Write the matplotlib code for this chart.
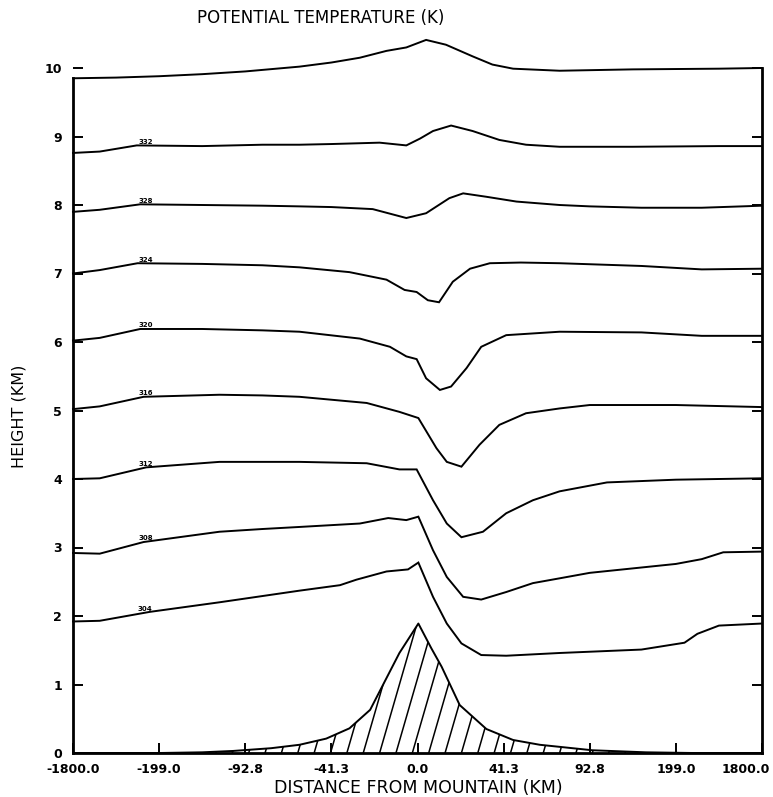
import numpy as np
import matplotlib
matplotlib.use("Agg")
import matplotlib.pyplot as plt
from matplotlib.patches import Polygon
from matplotlib import transforms

# ---------------- data (x in grid-index units 0..8, heights in km) ----------------
xtick_labels = ['-1800.0', '-199.0', '-92.8', '-41.3', '0.0', '41.3', '92.8', '199.0', '1800.0']
ytick_labels = ['0', '1', '2', '3', '4', '5', '6', '7', '8', '9', '10']

u_336 = [0, 0.5, 1.0, 1.5, 2.0, 2.63, 3.0, 3.33, 3.64, 3.87, 4.10, 4.33, 4.64, 4.87, 5.11, 5.65, 6.5, 7.5, 8]
z_336 = [9.85, 9.86, 9.88, 9.91, 9.95, 10.02, 10.08, 10.15, 10.25, 10.30, 10.41, 10.34, 10.17, 10.05, 9.99, 9.96, 9.98, 9.99, 10.0]

u_332 = [0, 0.31, 0.74, 1.5, 2.2, 2.63, 3.0, 3.56, 3.87, 4.03, 4.18, 4.39, 4.64, 4.95, 5.26, 5.65, 6.5, 7.5, 8]
z_332 = [8.76, 8.78, 8.87, 8.86, 8.88, 8.88, 8.89, 8.91, 8.87, 8.97, 9.08, 9.16, 9.08, 8.95, 8.88, 8.85, 8.85, 8.86, 8.86]

u_328 = [0, 0.31, 0.78, 1.5, 2.2, 2.63, 3.0, 3.48, 3.87, 4.10, 4.37, 4.53, 4.80, 5.15, 5.65, 6.0, 6.6, 7.3, 8]
z_328 = [7.90, 7.93, 8.01, 8.00, 7.99, 7.98, 7.97, 7.94, 7.81, 7.88, 8.10, 8.17, 8.12, 8.05, 8.00, 7.98, 7.96, 7.96, 7.99]

u_324 = [0, 0.31, 0.75, 1.5, 2.2, 2.63, 3.21, 3.64, 3.85, 3.99, 4.12, 4.25, 4.41, 4.61, 4.84, 5.2, 5.65, 6.6, 7.3, 8]
z_324 = [7.00, 7.05, 7.15, 7.14, 7.12, 7.09, 7.02, 6.91, 6.76, 6.73, 6.61, 6.58, 6.88, 7.07, 7.15, 7.16, 7.15, 7.11, 7.06, 7.07]

u_320 = [0, 0.31, 0.78, 1.5, 2.2, 2.63, 3.33, 3.68, 3.87, 3.99, 4.10, 4.26, 4.39, 4.57, 4.74, 5.03, 5.65, 6.6, 7.3, 8]
z_320 = [6.02, 6.06, 6.19, 6.19, 6.17, 6.15, 6.05, 5.93, 5.79, 5.75, 5.47, 5.30, 5.35, 5.62, 5.93, 6.10, 6.15, 6.14, 6.09, 6.09]

u_316 = [0, 0.31, 0.82, 1.7, 2.2, 2.63, 3.41, 3.79, 4.01, 4.22, 4.34, 4.51, 4.72, 4.95, 5.26, 5.65, 6.0, 7.0, 8]
z_316 = [5.02, 5.06, 5.20, 5.23, 5.22, 5.20, 5.11, 4.98, 4.89, 4.45, 4.25, 4.18, 4.50, 4.79, 4.96, 5.03, 5.08, 5.08, 5.05]

u_312 = [0, 0.31, 0.85, 1.7, 2.2, 2.63, 3.41, 3.79, 3.99, 4.18, 4.34, 4.51, 4.76, 5.03, 5.34, 5.65, 6.2, 7.0, 8]
z_312 = [4.00, 4.01, 4.17, 4.25, 4.25, 4.25, 4.23, 4.14, 4.14, 3.69, 3.35, 3.15, 3.23, 3.50, 3.69, 3.82, 3.95, 3.99, 4.01]

u_308 = [0, 0.31, 0.82, 1.7, 2.2, 2.63, 3.33, 3.66, 3.87, 4.01, 4.18, 4.34, 4.53, 4.74, 5.03, 5.34, 5.65, 6.0, 7.0, 7.3, 7.55, 8]
z_308 = [2.92, 2.91, 3.08, 3.23, 3.27, 3.30, 3.35, 3.43, 3.40, 3.45, 2.96, 2.57, 2.28, 2.24, 2.35, 2.48, 2.55, 2.63, 2.76, 2.83, 2.93, 2.94]

u_304 = [0, 0.31, 0.89, 1.7, 2.63, 3.1, 3.29, 3.64, 3.89, 4.01, 4.18, 4.34, 4.51, 4.74, 5.03, 5.65, 6.6, 7.1, 7.25, 7.5, 8]
z_304 = [1.92, 1.93, 2.06, 2.20, 2.37, 2.45, 2.53, 2.65, 2.68, 2.78, 2.28, 1.89, 1.60, 1.43, 1.42, 1.46, 1.51, 1.61, 1.74, 1.86, 1.89]

u_mtn = [0, 1.0, 1.5, 1.86, 2.3, 2.63, 2.94, 3.21, 3.45, 3.79, 4.01, 4.16, 4.28, 4.49, 4.80, 5.11, 5.42, 6.03, 6.65, 7.2, 8]
z_mtn = [0, 0.0, 0.01, 0.03, 0.07, 0.12, 0.21, 0.36, 0.63, 1.46, 1.89, 1.53, 1.26, 0.70, 0.35, 0.19, 0.12, 0.04, 0.01, 0.0, 0]

isentropes = [
    ('', u_336, z_336),
    ('332', u_332, z_332),
    ('328', u_328, z_328),
    ('324', u_324, z_324),
    ('320', u_320, z_320),
    ('316', u_316, z_316),
    ('312', u_312, z_312),
    ('308', u_308, z_308),
    ('304', u_304, z_304),
]

# ---------------- figure ----------------
W, H = 773, 797
fig = plt.figure(figsize=(W / 100, H / 100), dpi=100)
ax = fig.add_axes([73 / W, 44 / H, (762 - 73) / W, (753 - 68) / H])
ax.set_xlim(0, 8)
ax.set_ylim(0, 10)

lw = 1.4
for lab, uu, zz in isentropes:
    ax.plot(uu, zz, color='black', lw=lw, clip_on=False, solid_joinstyle='miter')
    if lab:
        yl = np.interp(0.84, uu, zz)
        ax.text(0.84, yl + 0.01, lab, fontsize=5, fontweight='bold',
                ha='center', va='bottom', color='black')

# mountain with steep hatching
ax.plot(u_mtn, z_mtn, color='black', lw=lw)
poly = Polygon(np.column_stack([u_mtn, z_mtn]), closed=True, facecolor='none',
               edgecolor='none')
ax.add_patch(poly)
slope = 0.23  # du per km of the hatch lines
for x0 in np.arange(-1.0, 9.0, 0.19):
    ln, = ax.plot([x0, x0 + slope * 2.5], [0, 2.5], color='black', lw=1.1)
    ln.set_clip_path(poly)

# domain boundaries (lateral walls end at the top isentrope)
ax.plot([0, 0], [0, z_336[0]], color='black', lw=2.0, clip_on=False)
ax.plot([8, 8], [0, z_336[-1]], color='black', lw=2.0, clip_on=False)

for s in ['left', 'right', 'top']:
    ax.spines[s].set_visible(False)
ax.spines['bottom'].set_linewidth(2.0)

ax.set_xticks(range(len(xtick_labels)))
ax.set_xticklabels(xtick_labels)
ax.set_yticks(range(len(ytick_labels)))
ax.set_yticklabels(ytick_labels)
ax.tick_params(axis='both', direction='in', length=7, width=1.4, labelsize=9)
ax.tick_params(axis='y', right=True, labelright=False, pad=8)
ax.tick_params(axis='x', pad=7)
for t in ax.get_xticklabels() + ax.get_yticklabels():
    t.set_fontweight('bold')
last = ax.get_xticklabels()[-1]
last.set_horizontalalignment('right')
last.set_transform(last.get_transform() + transforms.ScaledTranslation(8 / 100, 0, fig.dpi_scale_trans))

fig.text(321 / W, 1 - 18 / H, 'POTENTIAL TEMPERATURE (K)', ha='center', va='center', fontsize=12)
fig.text(418 / W, 1 - 788 / H, 'DISTANCE FROM MOUNTAIN (KM)', ha='center', va='center', fontsize=12.5)
fig.text(19 / W, 1 - 416 / H, 'HEIGHT (KM)', ha='center', va='center', fontsize=11.5, rotation=90)

fig.savefig('out.png', dpi=100, facecolor='white')
